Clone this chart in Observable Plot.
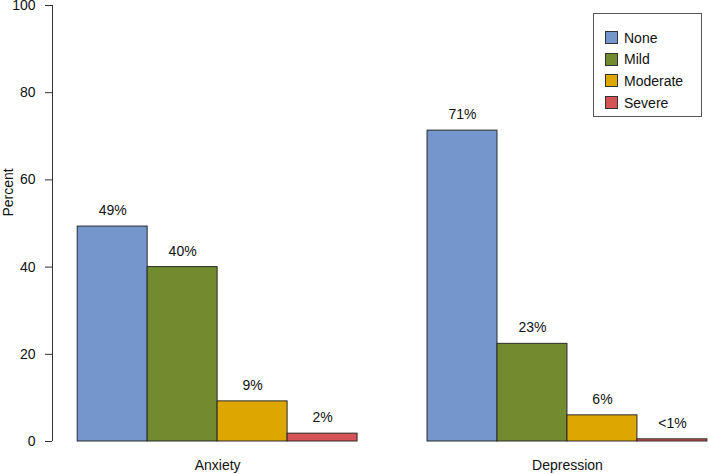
<!DOCTYPE html>
<html>
<head>
<meta charset="utf-8">
<script src="https://cdn.jsdelivr.net/npm/d3@7"></script>
<script src="https://cdn.jsdelivr.net/npm/@observablehq/plot@0.6"></script>
<style>
  html, body { margin: 0; padding: 0; background: #fff; }
  #wrap { position: relative; width: 709px; height: 474px; font-family: "Liberation Sans", Arial, Helvetica, sans-serif; }
  #legend { position: absolute; left: 593px; top: 13px; width: 109px; height: 104px; border: 1px solid #555; background: #fff; box-sizing: border-box; padding-top: 13px; }
  .item { display: flex; align-items: center; height: 21.6px; padding-left: 11px; font-size: 14px; color: #111; }
  .sw { width: 13px; height: 13px; border: 1px solid #333; margin-right: 6px; box-sizing: border-box; }
</style>
</head>
<body>
<div id="wrap"><div id="legend"></div></div>
<script>
const groups = ["Anxiety", "Depression"];
const levels = ["None", "Mild", "Moderate", "Severe"];
const colors = ["#7596cc", "#728b2e", "#dea600", "#d55354"];
const anxietyValues = [49.3, 40.0, 9.2, 1.8];
const depressionValues = [71.3, 22.4, 6.0, 0.5];
const anxietyLabels = ["49%", "40%", "9%", "2%"];
const depressionLabels = ["71%", "23%", "6%", "<1%"];
const yTicks = [0, 20, 40, 60, 80, 100];

// bar slots: one empty slot before each group of four bars (R barplot beside=TRUE)
const seriesValues = [anxietyValues, depressionValues];
const seriesLabels = [anxietyLabels, depressionLabels];
const rows = [];
groups.forEach((g, gi) => {
  levels.forEach((lv, k) => {
    const x1 = 1 + gi * 5 + k;
    rows.push({group: g, level: lv, value: seriesValues[gi][k], label: seriesLabels[gi][k], x1, x2: x1 + 1, xc: x1 + 0.5});
  });
});
const groupRows = groups.map((g, gi) => ({group: g, xc: 1 + gi * 5 + levels.length / 2}));
const xDomain = [0.64, 10.03];

const chart = Plot.plot({
  width: 709,
  height: 474,
  marginLeft: 52,
  marginRight: 0,
  marginTop: 5,
  marginBottom: 33,
  style: {fontFamily: '"Liberation Sans", Arial, Helvetica, sans-serif', fontSize: "14px", color: "#111", background: "transparent", overflow: "visible"},
  x: {domain: xDomain, axis: null},
  y: {domain: [0, 100], axis: null},
  color: {domain: levels, range: colors},
  marks: [
    Plot.rectY(rows, {x1: "x1", x2: "x2", y1: 0, y2: "value", fill: "level", stroke: "#2a2a2a", strokeWidth: 1}),
    Plot.text(rows, {x: "xc", y: "value", text: "label", dy: -16, fontSize: 14, fill: "#111"}),
    Plot.text(groupRows, {x: "xc", y: 0, text: "group", dy: 24, fontSize: 14, fill: "#111"}),
    Plot.ruleX([xDomain[0]], {y1: 0, y2: 100, stroke: "#333"}),
    Plot.axisY({ticks: yTicks, tickSize: 7, tickPadding: 10, fontSize: 14, stroke: "#333", label: null}),
    Plot.text(["Percent"], {frameAnchor: "left", text: d => d, rotate: -90, dx: -44, dy: -7, fontSize: 14, fill: "#111"})
  ]
});
document.getElementById("wrap").prepend(chart);

const legend = document.getElementById("legend");
levels.forEach((lv, i) => {
  const it = document.createElement("div");
  it.className = "item";
  const sw = document.createElement("span");
  sw.className = "sw";
  sw.style.background = colors[i];
  const t = document.createElement("span");
  t.textContent = lv;
  it.append(sw, t);
  legend.append(it);
});
</script>
</body>
</html>
